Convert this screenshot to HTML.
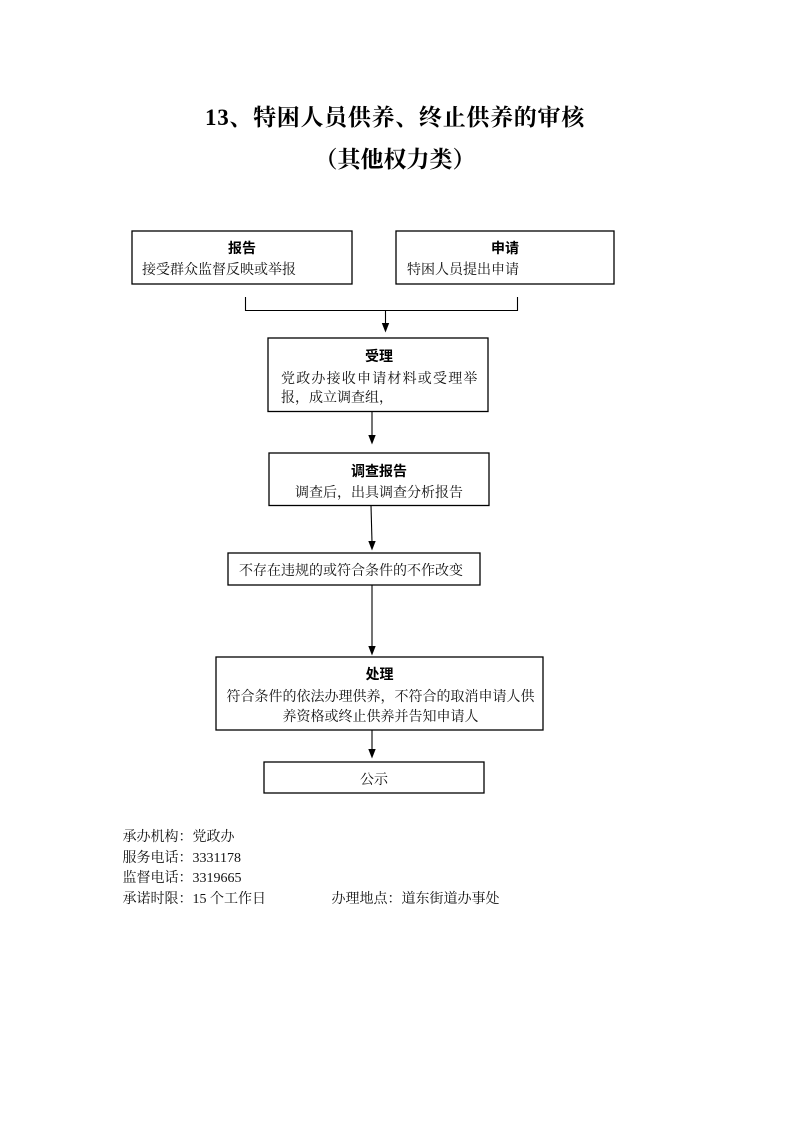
<!DOCTYPE html>
<html>
<head>
<meta charset="utf-8">
<style>
  html,body{margin:0;padding:0;background:#fff;}
  body{width:793px;height:1122px;position:relative;overflow:hidden;}
  .t{position:absolute;white-space:nowrap;font-family:"Liberation Serif","Noto Serif CJK SC",serif;font-size:14px;line-height:20px;color:#111;}
  .b{font-family:"Liberation Sans","Noto Sans CJK SC",sans-serif;font-weight:bold;color:#000;}
  .c{text-align:center;}
  .title{position:absolute;white-space:nowrap;font-family:"Liberation Serif","Noto Serif CJK SC",serif;font-weight:bold;font-size:23px;line-height:30px;color:#000;}
  svg{position:absolute;left:0;top:0;}
</style>
</head>
<body>
<div class="title" style="left:205px;top:103px;letter-spacing:0.7px;">13、特困人员供养、终止供养的审核</div>
<div class="title" style="left:0;width:790px;top:144.5px;text-align:center;">（其他权力类）</div>

<svg width="793" height="1122" viewBox="0 0 793 1122">
  <g fill="none" stroke="#000" stroke-width="1.3">
    <rect x="132" y="231" width="220" height="53"/>
    <rect x="396" y="231" width="218" height="53"/>
    <rect x="268" y="338" width="220" height="73.5"/>
    <rect x="269" y="453" width="220" height="52.5"/>
    <rect x="228" y="553" width="252" height="32"/>
    <rect x="216" y="657" width="327" height="73"/>
    <rect x="264" y="762" width="220" height="31"/>
  </g>
  <g fill="none" stroke="#000" stroke-width="1.1">
    <path d="M245.5 297 V310.5 H517.5 V297"/>
    <path d="M385.5 310.5 V324"/>
    <path d="M372 411.5 V436"/>
    <path d="M371 505.5 L372 542"/>
    <path d="M372 585 V647"/>
    <path d="M372 730 V750"/>
  </g>
  <g fill="#000">
    <polygon points="381.8,323 389.2,323 385.5,332.5"/>
    <polygon points="368.3,435 375.7,435 372,444.5"/>
    <polygon points="368.3,541 375.7,541 372,550.5"/>
    <polygon points="368.3,646 375.7,646 372,655.5"/>
    <polygon points="368.3,749 375.7,749 372,758.5"/>
  </g>
</svg>

<!-- Box A -->
<div class="t b c" style="left:132px;width:220px;top:238px;">报告</div>
<div class="t" style="left:142px;top:261px;">接受群众监督反映或举报</div>
<!-- Box B -->
<div class="t b c" style="left:396px;width:218px;top:238px;">申请</div>
<div class="t" style="left:407px;top:261px;">特困人员提出申请</div>
<!-- Box C -->
<div class="t b c" style="left:268px;width:222px;top:346px;">受理</div>
<div class="t" style="left:281px;top:370px;letter-spacing:1.2px;">党政办接收申请材料或受理举</div>
<div class="t" style="left:281px;top:389px;">报，成立调查组，</div>
<!-- Box D -->
<div class="t b c" style="left:269px;width:220px;top:461px;">调查报告</div>
<div class="t c" style="left:269px;width:220px;top:484px;">调查后，出具调查分析报告</div>
<!-- Box E -->
<div class="t" style="left:239px;top:562px;">不存在违规的或符合条件的不作改变</div>
<!-- Box F -->
<div class="t b c" style="left:216px;width:327px;top:664px;">处理</div>
<div class="t" style="left:226.5px;top:688px;">符合条件的依法办理供养，不符合的取消申请人供</div>
<div class="t" style="left:282.5px;top:708px;">养资格或终止供养并告知申请人</div>
<!-- Box G -->
<div class="t c" style="left:264px;width:220px;top:771px;">公示</div>

<!-- Footer -->
<div class="t" style="left:122.5px;top:828px;">承办机构：党政办</div>
<div class="t" style="left:122.5px;top:849px;">服务电话：3331178</div>
<div class="t" style="left:122.5px;top:869px;">监督电话：3319665</div>
<div class="t" style="left:122.5px;top:890px;">承诺时限：15 个工作日</div>
<div class="t" style="left:331.5px;top:890px;">办理地点：道东街道办事处</div>
</body>
</html>
